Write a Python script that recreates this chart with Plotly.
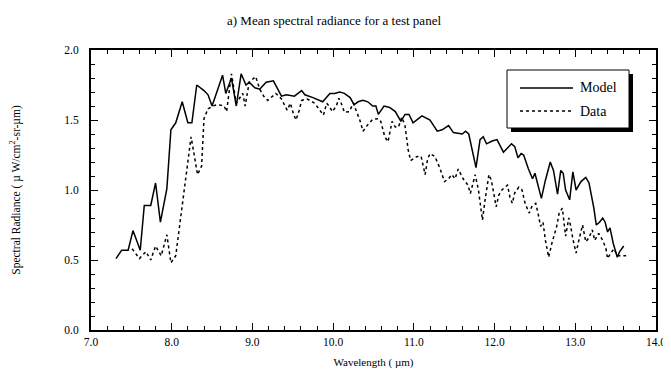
import plotly.graph_objects as go

model_x = [7.31, 7.38, 7.46, 7.52, 7.61, 7.66, 7.74, 7.80, 7.86, 7.94, 7.99, 8.05, 8.13, 8.20, 8.25,
           8.31, 8.40, 8.45, 8.50, 8.63, 8.67, 8.74, 8.80, 8.86, 8.92, 8.96, 9.03, 9.09, 9.17, 9.26,
           9.36, 9.42, 9.52, 9.61, 9.65, 9.75, 9.87, 9.91, 9.96, 10.02, 10.08, 10.14, 10.21, 10.26,
           10.31, 10.37, 10.43, 10.49, 10.53, 10.56, 10.63, 10.70, 10.77, 10.84, 10.89, 10.94, 10.99,
           11.10, 11.20, 11.29, 11.35, 11.43, 11.49, 11.60, 11.64, 11.68, 11.70, 11.77, 11.82, 11.86,
           11.90, 11.97, 12.03, 12.11, 12.16, 12.21, 12.25, 12.29, 12.33, 12.36, 12.42, 12.47, 12.50,
           12.58, 12.63, 12.69, 12.73, 12.78, 12.82, 12.85, 12.88, 12.93, 12.97, 13.01, 13.07, 13.13,
           13.17, 13.20, 13.23, 13.26, 13.30, 13.34, 13.37, 13.40, 13.43, 13.47, 13.52, 13.55, 13.60]
model_y = [0.51, 0.57, 0.57, 0.71, 0.57, 0.89, 0.89, 1.05, 0.77, 1.01, 1.43, 1.48, 1.63, 1.48, 1.48,
           1.75, 1.71, 1.68, 1.60, 1.82, 1.69, 1.80, 1.60, 1.83, 1.75, 1.77, 1.73, 1.72, 1.77, 1.78,
           1.67, 1.68, 1.67, 1.71, 1.68, 1.66, 1.63, 1.66, 1.69, 1.69, 1.70, 1.69, 1.66, 1.61,
           1.63, 1.64, 1.63, 1.60, 1.60, 1.54, 1.60, 1.59, 1.56, 1.49, 1.54, 1.54, 1.48,
           1.53, 1.50, 1.42, 1.43, 1.46, 1.41, 1.40, 1.42, 1.40, 1.35, 1.16, 1.36, 1.38,
           1.33, 1.35, 1.36, 1.27, 1.30, 1.33, 1.31, 1.23, 1.26, 1.25, 1.15, 1.08, 1.12,
           0.94, 1.07, 1.20, 1.14, 0.97, 1.14, 1.12, 1.00, 0.93, 1.13, 1.00, 1.06, 1.09,
           1.05, 0.96, 0.87, 0.75, 0.77, 0.80, 0.77, 0.70, 0.73, 0.62, 0.52, 0.56, 0.60]

data_x = [7.51, 7.60, 7.68, 7.74, 7.80, 7.87, 7.94, 7.99, 8.05, 8.14, 8.24, 8.32, 8.37, 8.40, 8.45,
          8.51, 8.57, 8.65, 8.68, 8.74, 8.80, 8.88, 8.91, 8.96, 9.04, 9.09, 9.14, 9.19, 9.29, 9.36,
          9.43, 9.47, 9.51, 9.54, 9.58, 9.61, 9.68, 9.77, 9.83, 9.88, 9.92, 9.95, 9.99, 10.04, 10.07,
          10.10, 10.14, 10.20, 10.25, 10.29, 10.33, 10.37, 10.42, 10.49, 10.56, 10.59, 10.64, 10.68,
          10.73, 10.77, 10.81, 10.85, 10.89, 10.93, 10.96, 11.04, 11.09, 11.14, 11.17, 11.20, 11.26,
          11.32, 11.38, 11.43, 11.47, 11.51, 11.55, 11.61, 11.67, 11.70, 11.76, 11.80, 11.83, 11.85,
          11.88, 11.93, 11.96, 11.99, 12.02, 12.05, 12.09, 12.16, 12.19, 12.22, 12.25, 12.30, 12.34,
          12.38, 12.43, 12.46, 12.51, 12.54, 12.57, 12.60, 12.63, 12.67, 12.71, 12.77, 12.80, 12.84,
          12.88, 12.92, 12.94, 12.97, 13.01, 13.04, 13.09, 13.13, 13.17, 13.21, 13.24, 13.29, 13.34,
          13.38, 13.40, 13.44, 13.48, 13.52, 13.58, 13.63]
data_y = [0.58, 0.51, 0.56, 0.50, 0.60, 0.53, 0.68, 0.48, 0.53, 0.95, 1.38, 1.11, 1.17, 1.51, 1.58,
          1.60, 1.61, 1.60, 1.56, 1.83, 1.62, 1.69, 1.60, 1.77, 1.81, 1.72, 1.67, 1.64, 1.69, 1.65,
          1.57, 1.62, 1.54, 1.50, 1.57, 1.64, 1.65, 1.62, 1.57, 1.535, 1.62, 1.60, 1.56, 1.60, 1.655,
          1.62, 1.555, 1.56, 1.62, 1.56, 1.50, 1.42, 1.46, 1.505, 1.51, 1.49, 1.38, 1.345,
          1.49, 1.45, 1.45, 1.52, 1.46, 1.285, 1.21, 1.24, 1.24, 1.11, 1.22, 1.26, 1.24,
          1.16, 1.06, 1.08, 1.11, 1.08, 1.15, 1.08, 1.035, 0.975, 1.11, 1.00, 0.845, 0.785,
          0.92, 1.11, 1.07, 0.97, 0.88, 0.96, 1.00, 1.035, 0.95, 0.905, 0.98, 1.02, 1.00,
          0.90, 0.835, 0.88, 0.905, 0.83, 0.74, 0.77, 0.64, 0.52, 0.62, 0.74, 0.835, 0.87,
          0.67, 0.80, 0.75, 0.65, 0.55, 0.63, 0.75, 0.63, 0.66, 0.715, 0.64, 0.69, 0.64,
          0.58, 0.51, 0.55, 0.58, 0.53, 0.53, 0.53]

series_names = ["Model", "Data"]
title_text = "a) Mean spectral radiance for a test panel"
x_title = "Wavelength ( µm)"
y_title = "Spectral Radiance ( µ W/cm<sup>2</sup>-sr-µm)"

SERIF = "Liberation Serif, Times New Roman, serif"
X_RANGE = [7, 14]
Y_RANGE = [0, 2.0]

# the page body has an 8px margin, so the figure is sized/offset to compensate
W, H = 663, 373

fig = go.Figure()
fig.add_trace(go.Scatter(x=model_x, y=model_y, mode="lines", name=series_names[0],
                         line=dict(color="black", width=1.5), showlegend=False))
fig.add_trace(go.Scatter(x=data_x, y=data_y, mode="lines", name=series_names[1],
                         line=dict(color="black", width=1.5, dash="3px,3px"), showlegend=False))

tickfont = dict(family=SERIF, size=11.5, color="black")
axis_common = dict(
    showgrid=False, zeroline=False, showline=True, linecolor="black", linewidth=2,
    mirror="allticks", ticks="inside", ticklen=7, tickwidth=1, tickcolor="black",
    tickformat=".1f", tickfont=tickfont, automargin=False,
)
fig.update_layout(
    xaxis=dict(range=X_RANGE, dtick=1, tick0=7,
               minor=dict(dtick=0.2, ticks="inside", ticklen=4, tickcolor="black", tickwidth=1),
               title=dict(text=x_title, font=dict(family=SERIF, size=11, color="black"), standoff=12),
               **axis_common),
    yaxis=dict(range=Y_RANGE, dtick=0.5, tick0=0,
               minor=dict(dtick=0.1, ticks="inside", ticklen=4, tickcolor="black", tickwidth=1),
               title=dict(text=y_title, font=dict(family=SERIF, size=11.5, color="black"), standoff=52),
               ticklabelstandoff=8,
               **axis_common),
    # companion axes so the minor ticks also appear on the top and right edges
    xaxis2=dict(range=X_RANGE, overlaying="x", side="top", anchor="y", showgrid=False, zeroline=False,
                showline=False, ticks="", showticklabels=False, dtick=1, tick0=7, automargin=False,
                minor=dict(dtick=0.2, ticks="inside", ticklen=4, tickcolor="black", tickwidth=1)),
    yaxis2=dict(range=Y_RANGE, overlaying="y", side="right", anchor="x", showgrid=False, zeroline=False,
                showline=False, ticks="", showticklabels=False, dtick=0.5, tick0=0, automargin=False,
                minor=dict(dtick=0.1, ticks="inside", ticklen=4, tickcolor="black", tickwidth=1)),
)
fig.add_trace(go.Scatter(x=[X_RANGE[0]], y=[Y_RANGE[0]], xaxis="x2", yaxis="y2", mode="markers",
                         marker=dict(opacity=0), showlegend=False, hoverinfo="skip"))

# legend box with drop shadow (paper coordinates, plot area is 565 x 280 px)
px_w, px_h = 565.0, 280.0
def px2x(p):
    return (p - 91) / px_w
def px2y(p):
    return (330 - p) / px_h

shapes = [
    dict(type="rect", xref="paper", yref="paper", x0=px2x(511), x1=px2x(633), y0=px2y(132), y1=px2y(74),
         fillcolor="black", line=dict(width=0), layer="above"),
    dict(type="rect", xref="paper", yref="paper", x0=px2x(507), x1=px2x(629), y0=px2y(128), y1=px2y(70),
         fillcolor="white", line=dict(color="black", width=1), layer="above"),
    dict(type="line", xref="paper", yref="paper", x0=px2x(520), x1=px2x(573), y0=px2y(88), y1=px2y(88),
         line=dict(color="black", width=1.5), layer="above"),
    dict(type="line", xref="paper", yref="paper", x0=px2x(520), x1=px2x(573), y0=px2y(111), y1=px2y(111),
         line=dict(color="black", width=1.5, dash="3px,3px"), layer="above"),
]
annotations = [
    dict(xref="paper", yref="paper", x=px2x(578), y=px2y(88), text=series_names[0], showarrow=False,
         xanchor="left", yanchor="middle", font=dict(family=SERIF, size=14, color="black")),
    dict(xref="paper", yref="paper", x=px2x(578), y=px2y(111), text=series_names[1], showarrow=False,
         xanchor="left", yanchor="middle", font=dict(family=SERIF, size=14, color="black")),
]

fig.update_layout(
    width=W, height=H,
    margin=dict(l=83, r=15, t=42, b=51),
    paper_bgcolor="white", plot_bgcolor="white",
    title=dict(text=title_text, x=(334 - 8) / W, xanchor="center", y=1 - 12 / H, yanchor="middle",
               font=dict(family=SERIF, size=13, color="black")),
    shapes=shapes, annotations=annotations,
    showlegend=False,
)

fig.write_html("out.html")
